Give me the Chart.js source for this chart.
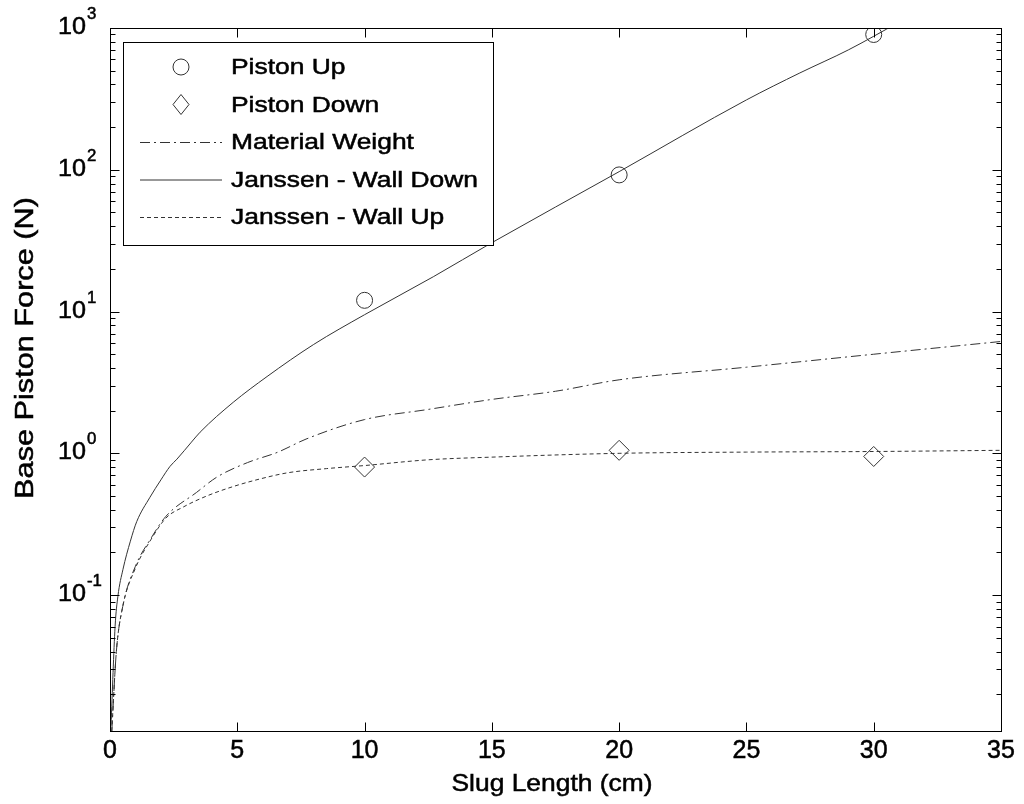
<!DOCTYPE html>
<html>
<head>
<meta charset="utf-8">
<script src="https://cdn.jsdelivr.net/npm/chart.js@4.4.0/dist/chart.umd.min.js"></script>
<style>
  html, body { margin: 0; padding: 0; background: #fff; }
  canvas { display: block; }
</style>
</head>
<body>
<canvas id="chart" width="1024" height="804"></canvas>
<script>
// measured base force for the three slug lengths (cm)
const testLength = [10, 20, 30];
const pistonUp = [12, 92, 900];
const pistonDown = [0.80, 1.05, 0.95];

// material weight of the slug
const weightLength = [0.07, 0.25, 0.5, 1, 1.6, 2.2, 3.4, 4.2, 5.4, 6.6, 7.7, 10, 12.5, 15, 17.5, 20, 25, 30, 35];
const weightForce = [0.011, 0.04, 0.083, 0.16, 0.25, 0.36, 0.53, 0.68, 0.86, 1.02, 1.26, 1.73, 2.04, 2.4, 2.74, 3.3, 4.05, 5.0, 6.15];

// Janssen model, wall friction acting down
const wallDownLength = [0.04, 0.2, 0.31, 0.51, 0.8, 1.05, 1.57, 2.0, 2.36, 2.63, 3.2, 3.54, 4.84, 6.17, 8, 10, 12.7, 15, 20, 25, 27.1, 29, 31];
const wallDownForce = [0.012, 0.06, 0.098, 0.152, 0.24, 0.33, 0.49, 0.65, 0.81, 0.91, 1.2, 1.41, 2.29, 3.48, 5.86, 9.5, 17.6, 30.6, 97, 311, 482, 700, 1100];

// Janssen model, wall friction acting up
const wallUpLength = [0.07, 0.25, 0.5, 1, 1.6, 2.2, 2.9, 3.8, 4.8, 5.9, 7, 8.5, 10, 12.5, 15, 20, 25, 30, 35];
const wallUpForce = [0.011, 0.04, 0.083, 0.155, 0.245, 0.35, 0.42, 0.50, 0.58, 0.66, 0.73, 0.78, 0.82, 0.90, 0.94, 1.0, 1.02, 1.03, 1.05];

// decade labels on the log axis: value and exponent
const yDecades = [0.1, 1, 10, 100, 1000];
const yExponents = ['-1', '0', '1', '2', '3'];

const FONT = '"Liberation Sans", Arial, Helvetica, sans-serif';
const INK = '#333';

function pts(xs, ys) {
    return xs.map((x, i) => ({ x: x, y: ys[i] }));
}

// text slightly widened and thickened, like the printed figure
function stretchText(ctx, text, x, y, size, align, sx) {
    ctx.save();
    ctx.translate(x, y);
    ctx.scale(sx, 1);
    ctx.font = size + 'px ' + FONT;
    ctx.textAlign = align;
    ctx.fillStyle = '#000';
    ctx.strokeStyle = '#000';
    ctx.lineWidth = 0.5;
    ctx.setLineDash([]);
    ctx.fillText(text, 0, 0);
    ctx.strokeText(text, 0, 0);
    ctx.restore();
}

function drawMarker(ctx, style, x, y, r) {
    ctx.beginPath();
    if (style === 'circle') {
        ctx.arc(x, y, r, 0, Math.PI * 2);
    } else {
        ctx.moveTo(x, y - r);
        ctx.lineTo(x + r * 0.8, y);
        ctx.lineTo(x, y + r);
        ctx.lineTo(x - r * 0.8, y);
        ctx.closePath();
    }
    ctx.stroke();
}

// box, inside ticks, legend
const framePlugin = {
    id: 'frame',
    afterDatasetsDraw(chart) {
        const ctx = chart.ctx;
        const area = chart.chartArea;
        const xs = chart.scales.x;
        const ys = chart.scales.y;
        const L = Math.round(area.left) + 0.5, R = Math.round(area.right) + 0.5;
        const T = Math.round(area.top) + 0.5, B = Math.round(area.bottom) + 0.5;

        ctx.save();
        ctx.strokeStyle = '#000';
        ctx.lineWidth = 1;
        ctx.setLineDash([]);
        ctx.strokeRect(L, T, R - L, B - T);

        ctx.beginPath();
        xs.ticks.forEach(t => {
            const px = Math.round(xs.getPixelForValue(t.value)) + 0.5;
            ctx.moveTo(px, B); ctx.lineTo(px, B - 9);
            ctx.moveTo(px, T); ctx.lineTo(px, T + 9);
        });
        for (let e = -2; e <= 3; e++) {
            for (let m = 1; m <= 9; m++) {
                const v = m * Math.pow(10, e);
                if (v < ys.min || v > ys.max) continue;
                const py = Math.round(ys.getPixelForValue(v)) + 0.5;
                const len = m === 1 ? 9 : 5;
                ctx.moveTo(L, py); ctx.lineTo(L + len, py);
                ctx.moveTo(R, py); ctx.lineTo(R - len, py);
            }
        }
        ctx.stroke();

        // legend
        const lx = 123.5, ly = 42.5, lw = 370, lh = 203;
        ctx.fillStyle = '#fff';
        ctx.fillRect(lx, ly, lw, lh);
        ctx.strokeRect(lx, ly, lw, lh);
        chart.data.datasets.forEach((ds, i) => {
            const cy = 67 + i * 37.5;
            ctx.strokeStyle = INK;
            ctx.lineWidth = 1;
            if (ds.showLine === false) {
                ctx.setLineDash([]);
                drawMarker(ctx, ds.pointStyle, 181, cy, ds.pointStyle === 'circle' ? 8 : 10);
            } else {
                ctx.setLineDash(ds.borderDash || []);
                ctx.beginPath();
                ctx.moveTo(140, cy + 0.5);
                ctx.lineTo(222, cy + 0.5);
                ctx.stroke();
            }
            ctx.textBaseline = 'middle';
            stretchText(ctx, ds.label, 231, cy + 1, 22, 'left', 1.2);
        });
        ctx.restore();
    },
    // tick labels and axis titles
    afterDraw(chart) {
        const ctx = chart.ctx;
        const xs = chart.scales.x;
        const ys = chart.scales.y;
        ctx.save();
        ctx.textBaseline = 'alphabetic';
        yDecades.forEach((v, i) => {
            const py = ys.getPixelForValue(v);
            stretchText(ctx, '10', 86, py + 6, 24, 'right', 1.05);
            stretchText(ctx, yExponents[i], 87, py - 9, 16, 'left', 1.05);
        });

        ctx.textBaseline = 'middle';
        xs.ticks.forEach(t => {
            stretchText(ctx, String(t.value), xs.getPixelForValue(t.value), 751, 25, 'center', 1.0);
        });

        stretchText(ctx, 'Slug Length (cm)', 552, 784, 24, 'center', 1.1);

        ctx.save();
        ctx.translate(26, 348);
        ctx.rotate(-Math.PI / 2);
        stretchText(ctx, 'Base Piston Force (N)', 0, 0, 26, 'center', 1.18);
        ctx.restore();
        ctx.restore();
    }
};

new Chart(document.getElementById('chart'), {
    type: 'line',
    data: {
        datasets: [
            {
                label: 'Piston Up',
                data: pts(testLength, pistonUp),
                showLine: false,
                pointStyle: 'circle',
                pointRadius: 8,
                pointBorderWidth: 1,
                borderColor: INK,
                backgroundColor: 'rgba(0,0,0,0)'
            },
            {
                label: 'Piston Down',
                data: pts(testLength, pistonDown),
                showLine: false,
                pointStyle: 'rectRot',
                pointRadius: 10,
                pointBorderWidth: 1,
                borderColor: INK,
                backgroundColor: 'rgba(0,0,0,0)'
            },
            {
                label: 'Material Weight',
                data: pts(weightLength, weightForce),
                borderColor: INK,
                borderWidth: 1,
                borderDash: [10, 4, 2, 4],
                pointRadius: 0,
                cubicInterpolationMode: 'monotone'
            },
            {
                label: 'Janssen - Wall Down',
                data: pts(wallDownLength, wallDownForce),
                borderColor: INK,
                borderWidth: 1,
                pointRadius: 0,
                cubicInterpolationMode: 'monotone'
            },
            {
                label: 'Janssen - Wall Up',
                data: pts(wallUpLength, wallUpForce),
                borderColor: INK,
                borderWidth: 1,
                borderDash: [4, 3],
                pointRadius: 0,
                cubicInterpolationMode: 'monotone'
            }
        ]
    },
    options: {
        responsive: false,
        animation: false,
        layout: { padding: { top: 28, right: 23, left: 0, bottom: 0 } },
        plugins: {
            legend: { display: false },
            tooltip: { enabled: false }
        },
        scales: {
            x: {
                type: 'linear',
                min: 0,
                max: 35,
                ticks: { stepSize: 5, display: false },
                grid: { display: false, drawTicks: false },
                border: { display: false },
                afterFit(scale) { scale.height = 73; }
            },
            y: {
                type: 'logarithmic',
                min: 0.011,
                max: 1000,
                ticks: { display: false },
                grid: { display: false, drawTicks: false },
                border: { display: false },
                afterFit(scale) { scale.width = 110; }
            }
        }
    },
    plugins: [framePlugin]
});
</script>
</body>
</html>
